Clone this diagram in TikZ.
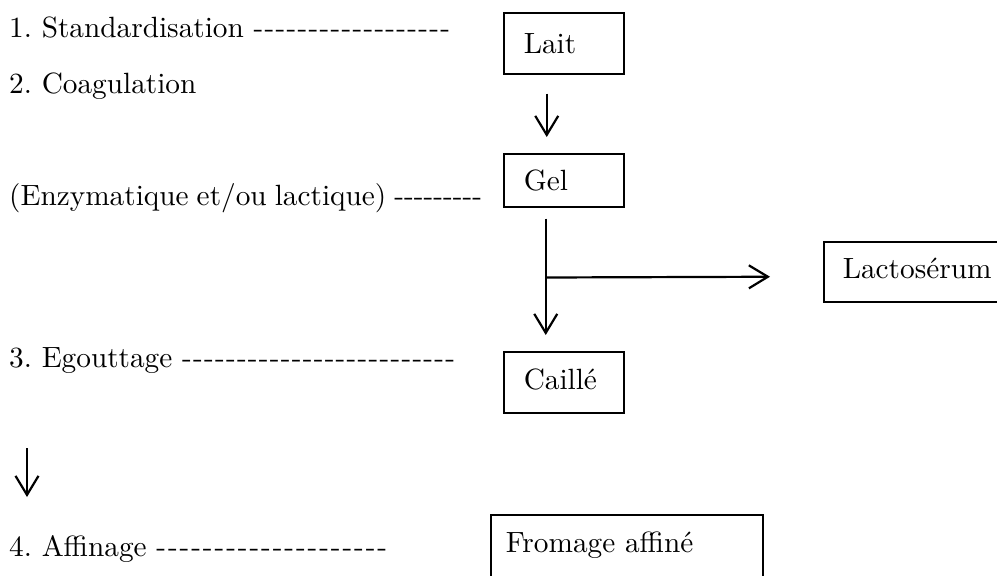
\documentclass[tikz,border=0pt]{standalone}
\usepackage{fontspec}
\newfontfamily\lmten{lmroman10-regular}[Extension=.otf]
\usetikzlibrary{arrows.meta}
\newcount\hycnt
% a line of text followed by #3 hyphens, the whole set in a box #1 wide
\newcommand\hyline[3]{\hbox to #1{#2 \hycnt=1 -\loop\ifnum\hycnt<#3 \hfil-\advance\hycnt by 1 \repeat}}
\begin{document}
\begin{tikzpicture}[x=1pt,y=-1pt,
  font=\lmten\fontsize{29.3}{35}\selectfont\frenchspacing,
  box/.style={draw, line width=1.5pt, inner xsep=20pt, inner ysep=0pt,
    align=left, anchor=north west},
  arr/.style={line width=2.2pt, -{Straight Barb[length=19pt,width=23pt]}},
  lbl/.style={anchor=base west, inner sep=0pt}]
\useasboundingbox (0,0) rectangle (997,576);
\clip (0,0) rectangle (997,576);

% left texts
\node[lbl] (t1) at (9,37) {\hyline{441pt}{1. Standardisation}{18}};
\node[lbl] (t2) at (9,93) {2. Coagulation};
\node[lbl] (t3) at (9,205) {\hyline{473pt}{(Enzymatique et/ou lactique)}{9}};
\node[lbl] (t4) at (9,367) {\hyline{446pt}{3. Egouttage}{25}};
\node[lbl] (t5) at (9,556) {\hyline{378pt}{4. Affinage}{20}};

% boxes
\node[box, text width=80pt, minimum height=61pt, text height=25pt, text depth=4pt] (lait) at (503,12) {Lait};
\node[box, text width=80pt, minimum height=53pt, text height=25pt, text depth=4pt] (gel) at (503,153) {Gel};
\node[box, text width=80pt, minimum height=61pt, text height=22pt, text depth=7pt] (caille) at (503,351) {Caillé};
\node[box, inner xsep=19pt, text width=162pt, minimum height=60pt, text height=21pt, text depth=7pt] (lacto) at (823,241) {Lactosérum};
\node[box, inner xsep=15pt, text width=242pt, minimum height=80pt, text height=24pt, text depth=28pt] (fromage) at (490,514) {Fromage affiné};

% connectors
\draw[arr] ([shift={(-17,19)}]lait.south) -- ([shift={(-17,-16)}]gel.north);
\coordinate (br) at ([shift={(-18,70)}]gel.south);
\draw[arr] ([shift={(-18,11)}]gel.south) -- ([shift={(-18,-16)}]caille.north);
\draw[arr] (br) -- ([shift={(-53,5)}]lacto.west);

\coordinate (la1) at (27,448);
\coordinate (la2) at (27,497);
\draw[arr] (la1) -- (la2);
\end{tikzpicture}
\end{document}
